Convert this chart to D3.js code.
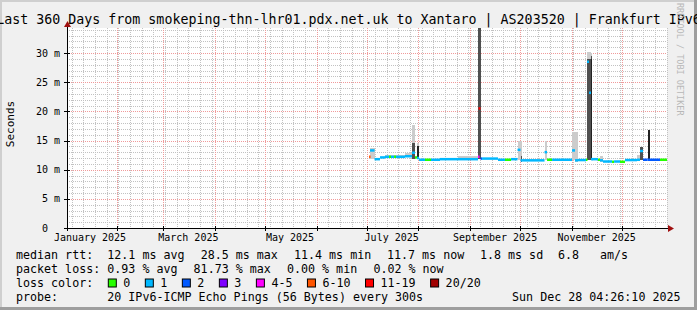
<!DOCTYPE html>
<html>
<head>
<meta charset="utf-8">
<script src="https://cdnjs.cloudflare.com/ajax/libs/d3/7.8.5/d3.min.js"></script>
<style>
body { margin: 0; background: #f0f0f0; }
svg { display: block; font-family: "DejaVu Sans Mono", monospace; }
text { white-space: pre; }
</style>
</head>
<body>
<svg id="canvas" width="697" height="310"></svg>
<script>
// step data: each value holds from its start time until the next start
let stepStart = [
    "2025-07-02T10:00Z", "2025-07-03T00:00Z", "2025-07-05T17:00Z", "2025-07-09T00:00Z",
    "2025-07-12T00:00Z", "2025-07-14T10:00Z", "2025-07-15T14:00Z", "2025-07-17T10:00Z",
    "2025-07-18T14:00Z", "2025-07-24T00:00Z", "2025-07-28T05:00Z", "2025-07-30T00:00Z",
    "2025-07-31T05:00Z", "2025-08-01T10:00Z", "2025-08-05T00:00Z", "2025-08-08T14:00Z",
    "2025-08-14T00:00Z", "2025-08-24T19:00Z", "2025-09-05T19:00Z", "2025-09-06T02:00Z",
    "2025-09-07T07:00Z", "2025-09-08T05:00Z", "2025-09-17T19:00Z", "2025-09-22T00:00Z",
    "2025-09-25T14:00Z", "2025-09-29T12:00Z", "2025-10-01T07:00Z", "2025-10-02T05:00Z",
    "2025-10-15T17:00Z", "2025-10-17T05:00Z", "2025-10-20T05:00Z", "2025-11-01T05:00Z",
    "2025-11-03T00:00Z", "2025-11-04T19:00Z", "2025-11-09T14:00Z", "2025-11-10T05:00Z",
    "2025-11-11T10:00Z", "2025-11-12T14:00Z", "2025-11-13T05:00Z", "2025-11-16T19:00Z",
    "2025-11-18T00:00Z", "2025-11-19T19:00Z", "2025-11-25T05:00Z", "2025-11-26T10:00Z",
    "2025-11-30T00:00Z", "2025-12-03T00:00Z", "2025-12-10T05:00Z", "2025-12-12T00:00Z",
    "2025-12-13T19:00Z", "2025-12-16T12:00Z", "2025-12-18T00:00Z", "2025-12-24T00:00Z"
]
let graphStart = "2025-01-02T04:26:10Z"
let graphEnd = "2025-12-28T04:26:10Z"

// median rtt in ms
let medianMs = [
    12.2, 13.3, 11.8, 12.1, 12.2, 12.2, 12.2, 12.2, 12.2, 12.3, 12.9, 12.1, 12.0,
    11.7, 11.7, 11.7, 11.8, 11.8, 12.2, 20.5, 11.9, 11.9, 11.7, 11.7, 11.8, 13.4,
    11.6, 11.6, 13.0, 11.7, 11.7, 13.3, 11.6, 11.65, 11.7, 28.5, 23.2, 11.8, 11.8,
    11.7, 11.6, 11.4, 11.35, 11.4, 11.35, 11.65, 11.7, 13.2, 11.7, 11.7, 11.7, 11.7
]
// index into lossLabels
let lossClass = [
    5, 1, 1, 1, 1, 0, 1, 0, 1, 1, 1, 0, 1,
    1, 0, 1, 1, 1, 4, 6, 2, 1, 1, 0, 1, 1,
    1, 1, 1, 0, 1, 1, 1, 1, 0, 1, 1, 1, 1,
    0, 1, 1, 0, 1, 0, 1, 1, 1, 2, 2, 2, 0
]
// smoke: lowest ping, and tops of the light, mid and dark bands (ms)
let smokeLow = [
    12.0, 11.9, 11.6, 11.9, 12.0, 12.0, 12.0, 12.0, 12.0, 12.1, 11.9, 11.9, 11.8,
    11.5, 11.5, 11.5, 11.6, 11.6, 11.9, 11.9, 11.7, 11.7, 11.5, 11.5, 11.6, 11.7,
    11.4, 11.4, 11.6, 11.5, 11.5, 11.6, 11.4, 11.45, 11.5, 11.7, 11.7, 11.6, 11.6,
    11.5, 11.4, 11.2, 11.15, 11.2, 11.15, 11.45, 11.5, 11.7, 11.5, 11.6, 11.5, 11.5
]
let smokeOuter = [
    12.4, 13.7, 12.0, 12.4, 12.6, 12.6, 12.6, 12.6, 12.6, 12.8, 17.7, 12.4, 14.6,
    11.9, 11.9, 11.9, 12.0, 12.3, 12.5, 40.0, 12.1, 12.1, 11.9, 11.9, 12.0, 14.9,
    14.9, 11.9, 14.9, 11.9, 12.0, 16.5, 16.5, 11.9, 11.9, 30.2, 30.2, 30.0, 12.1,
    12.0, 12.3, 11.7, 11.6, 11.7, 11.6, 11.9, 12.5, 13.9, 12.0, 16.8, 12.0, 11.9
]
let smokeMid = [
    12.2, 13.4, 11.8, 12.1, 12.2, 12.2, 12.2, 12.2, 12.2, 12.3, 14.5, 12.1, 14.0,
    11.7, 11.7, 11.7, 11.8, 11.8, 12.2, 40.0, 11.9, 11.9, 11.7, 11.7, 11.8, 13.4,
    12.4, 11.6, 13.2, 11.7, 11.7, 13.5, 11.6, 11.65, 11.7, 29.0, 29.0, 29.5, 11.8,
    11.7, 11.6, 11.4, 11.35, 11.4, 11.35, 11.65, 11.7, 13.9, 11.7, 16.8, 11.7, 11.7
]
let smokeDark = [
    12.2, 13.3, 11.8, 12.1, 12.2, 12.2, 12.2, 12.2, 12.2, 12.3, 12.9, 12.1, 14.0,
    11.7, 11.7, 11.7, 11.8, 11.8, 12.2, 20.5, 11.9, 11.9, 11.7, 11.7, 11.8, 13.4,
    11.6, 11.6, 13.0, 11.7, 11.7, 13.3, 11.6, 11.65, 11.7, 28.5, 23.2, 29.0, 11.8,
    11.7, 11.6, 11.4, 11.35, 11.4, 11.35, 11.65, 11.7, 13.2, 11.7, 16.8, 11.7, 11.7
]

let lossLabels = ["0", "1", "2", "3", "4-5", "6-10", "11-19", "20/20"]
let lossColors = ["#26ff00", "#00b8ff", "#0059ff", "#7e00ff", "#ff00ff", "#ff5500", "#ff0000", "#a10000"]

let yTicks = [0, 5, 10, 15, 20, 25, 30]
let monthLabelDates = ["2025-01-01", "2025-03-01", "2025-05-01", "2025-07-01", "2025-09-01", "2025-11-01"]
let monthLabels = ["January 2025", "March 2025", "May 2025", "July 2025", "September 2025", "November 2025"]

let titleText = "Last 360 Days from smokeping-thn-lhr01.pdx.net.uk to Xantaro | AS203520 | Frankfurt IPv6"
let rttStats = ["median rtt:", "12.1 ms avg", "28.5 ms max", "11.4 ms min", "11.7 ms now", "1.8 ms sd", "6.8", "am/s"]
let lossStats = ["packet loss:", "0.93 % avg", "81.73 % max", "0.00 % min", "0.02 % now"]
let probeLabel = "probe:"
let probeText = "20 IPv6-ICMP Echo Pings (56 Bytes) every 300s"
let stampText = "Sun Dec 28 04:26:10 2025"


let svg = d3.select("#canvas")
let plotLeft = 67, plotRight = 667, plotTop = 28, plotBottom = 228

let x = d3.scaleUtc()
    .domain([new Date(graphStart), new Date(graphEnd)])
    .range([plotLeft, plotRight])

let y = d3.scaleLinear()
    .domain([0, 34.29])
    .range([plotBottom, plotTop])

// background with rrdtool style shading
svg.append("rect").attr("width", 697).attr("height", 310).attr("fill", "#f0f0f0")
svg.append("path").attr("d", "M0,0H697V2H2V310H0Z").attr("fill", "#cfcfcf")
svg.append("path").attr("d", "M697,0V310H0V307H694V0Z").attr("fill", "#9e9e9e")

svg.append("rect")
    .attr("x", plotLeft).attr("y", plotTop)
    .attr("width", plotRight - plotLeft).attr("height", plotBottom - plotTop)
    .attr("fill", "#ffffff")

// grid
let grid = svg.append("g").attr("shape-rendering", "crispEdges")
let minorColor = "#c2c2c2"
let majorColor = "#f09a9a"

let minorY = d3.range(1, 35).filter(v => v % 5 !== 0)
grid.selectAll(".ymin")
    .data(minorY)
    .enter()
    .append("line")
    .attr("x1", plotLeft).attr("x2", plotRight)
    .attr("y1", d => Math.round(y(d)) + 0.5)
    .attr("y2", d => Math.round(y(d)) + 0.5)
    .attr("stroke", minorColor)
    .attr("stroke-dasharray", "1,1")

let weeks = d3.utcSunday.range(x.domain()[0], x.domain()[1])
grid.selectAll(".xmin")
    .data(weeks)
    .enter()
    .append("line")
    .attr("x1", d => Math.round(x(d)) + 0.5)
    .attr("x2", d => Math.round(x(d)) + 0.5)
    .attr("y1", plotTop).attr("y2", plotBottom)
    .attr("stroke", minorColor)
    .attr("stroke-dasharray", "1,1")

grid.selectAll(".ymaj")
    .data(yTicks.filter(v => v > 0))
    .enter()
    .append("line")
    .attr("x1", plotLeft).attr("x2", plotRight)
    .attr("y1", d => Math.round(y(d)) + 0.5)
    .attr("y2", d => Math.round(y(d)) + 0.5)
    .attr("stroke", majorColor)
    .attr("stroke-dasharray", "1,1")

let months = d3.utcMonth.range(x.domain()[0], x.domain()[1])
grid.selectAll(".xmaj")
    .data(months)
    .enter()
    .append("line")
    .attr("x1", d => Math.round(x(d)) + 0.5)
    .attr("x2", d => Math.round(x(d)) + 0.5)
    .attr("y1", plotTop).attr("y2", plotBottom)
    .attr("stroke", majorColor)
    .attr("stroke-dasharray", "1,1")

// smoke and median
let steps = stepStart.map((s, i) => {
    return {
        t0: new Date(s),
        t1: new Date(i + 1 < stepStart.length ? stepStart[i + 1] : graphEnd),
        median: medianMs[i],
        loss: lossClass[i],
        low: smokeLow[i],
        outer: smokeOuter[i],
        mid: smokeMid[i],
        dark: smokeDark[i]
    }
})

svg.append("clipPath").attr("id", "plotclip")
    .append("rect")
    .attr("x", plotLeft).attr("y", plotTop)
    .attr("width", plotRight - plotLeft).attr("height", plotBottom - plotTop)

let plot = svg.append("g").attr("clip-path", "url(#plotclip)")

let smokeBands = [
    { key: "outer", color: "#cccccc" },
    { key: "mid", color: "#505050" },
    { key: "dark", color: "#222222" }
]

smokeBands.forEach((band) => {
    plot.append("g")
        .attr("shape-rendering", "crispEdges")
        .selectAll("rect")
        .data(steps.filter(d => d[band.key] > d.median + 0.3))
        .enter()
        .append("rect")
        .attr("x", d => x(d.t0))
        .attr("width", d => Math.max(1, x(d.t1) - x(d.t0)))
        .attr("y", d => y(d[band.key]))
        .attr("height", d => y(d.low) - y(d[band.key]))
        .attr("fill", band.color)
})

plot.append("g")
    .selectAll("line")
    .data(steps)
    .enter()
    .append("line")
    .attr("x1", d => x(d.t0))
    .attr("x2", d => Math.max(x(d.t1), x(d.t0) + 1.5))
    .attr("y1", d => y(d.median))
    .attr("y2", d => y(d.median))
    .attr("stroke", d => lossColors[d.loss])
    .attr("stroke-width", 2.5)

// axes
let axisColor = "#000000"
let arrowColor = "#a01010"

svg.append("line")
    .attr("x1", plotLeft - 3).attr("x2", plotRight + 2)
    .attr("y1", plotBottom + 0.5).attr("y2", plotBottom + 0.5)
    .attr("stroke", axisColor)
svg.append("path")
    .attr("d", `M${plotRight + 1},${plotBottom - 3}L${plotRight + 7},${plotBottom + 0.5}L${plotRight + 1},${plotBottom + 4}Z`)
    .attr("fill", arrowColor)

svg.append("line")
    .attr("x1", plotLeft + 0.5).attr("x2", plotLeft + 0.5)
    .attr("y1", plotBottom + 3).attr("y2", plotTop - 2)
    .attr("stroke", axisColor)
svg.append("path")
    .attr("d", `M${plotLeft - 3},${plotTop - 1}L${plotLeft + 0.5},${plotTop - 7}L${plotLeft + 4},${plotTop - 1}Z`)
    .attr("fill", arrowColor)

// axis ticks
let ticks = svg.append("g").attr("shape-rendering", "crispEdges").attr("stroke", axisColor)
ticks.selectAll(".yt")
    .data(yTicks)
    .enter()
    .append("line")
    .attr("x1", plotLeft - 3).attr("x2", plotLeft + 3)
    .attr("y1", d => Math.round(y(d)) + 0.5)
    .attr("y2", d => Math.round(y(d)) + 0.5)
ticks.selectAll(".xt")
    .data(months)
    .enter()
    .append("line")
    .attr("x1", d => Math.round(x(d)) + 0.5)
    .attr("x2", d => Math.round(x(d)) + 0.5)
    .attr("y1", plotBottom - 2).attr("y2", plotBottom + 3)

// axis labels
svg.selectAll(".ylab")
    .data(yTicks)
    .enter()
    .append("text")
    .attr("x", 60)
    .attr("y", d => y(d) + 3.5)
    .attr("text-anchor", "end")
    .attr("font-size", "10px")
    .attr("fill", "#000")
    .text(d => d === 0 ? "0  " : d + " m")

svg.selectAll(".xlab")
    .data(monthLabelDates)
    .enter()
    .append("text")
    .attr("x", d => x(d3.utcDay.offset(new Date(d + "T00:00Z"), 15)))
    .attr("y", 241)
    .attr("text-anchor", "middle")
    .attr("font-size", "10px")
    .attr("fill", "#000")
    .text((d, i) => monthLabels[i])

svg.append("text")
    .attr("transform", "translate(13.5," + ((plotTop + plotBottom) / 2 - 4) + ") rotate(-90)")
    .attr("text-anchor", "middle")
    .attr("font-size", "11px")
    .attr("fill", "#000")
    .text("Seconds")

// title
svg.append("text")
    .attr("x", 348.5)
    .attr("y", 24)
    .attr("text-anchor", "middle")
    .attr("font-size", "13.3px")
    .attr("fill", "#000")
    .text(titleText)

// watermark
svg.append("text")
    .attr("transform", "translate(677,3) rotate(90)")
    .attr("font-size", "8.5px")
    .attr("fill", "#b8b8b8")
    .text("RRDTOOL / TOBI OETIKER")

// legend
let legendFont = "11.66px"
let rttX = [16, 107.3, 200.7, 294, 387, 480, 558, 600]
let lossX = [16, 107.3, 193.6, 287, 373.4]

svg.selectAll(".rtt")
    .data(rttStats)
    .enter()
    .append("text")
    .attr("x", (d, i) => rttX[i])
    .attr("y", 259)
    .attr("font-size", legendFont)
    .text(d => d)

svg.selectAll(".ploss")
    .data(lossStats)
    .enter()
    .append("text")
    .attr("x", (d, i) => lossX[i])
    .attr("y", 273)
    .attr("font-size", legendFont)
    .text(d => d)

svg.append("text")
    .attr("x", 16).attr("y", 287)
    .attr("font-size", legendFont)
    .text("loss color:")

let bx = 108.3
lossLabels.forEach((label, i) => {
    svg.append("rect")
        .attr("x", bx).attr("y", 279)
        .attr("width", 8).attr("height", 8)
        .attr("fill", lossColors[i])
        .attr("stroke", "#000")
        .attr("stroke-width", 1)
    svg.append("text")
        .attr("x", bx + 15).attr("y", 287)
        .attr("font-size", legendFont)
        .text(label)
    bx = bx + 15 + label.length * 7.02 + 15
})

svg.append("text")
    .attr("x", 16).attr("y", 301)
    .attr("font-size", legendFont)
    .text(probeLabel)
svg.append("text")
    .attr("x", 107.3).attr("y", 301)
    .attr("font-size", legendFont)
    .text(probeText)
svg.append("text")
    .attr("x", 680.5).attr("y", 301)
    .attr("text-anchor", "end")
    .attr("font-size", legendFont)
    .text(stampText)
</script>
</body>
</html>
